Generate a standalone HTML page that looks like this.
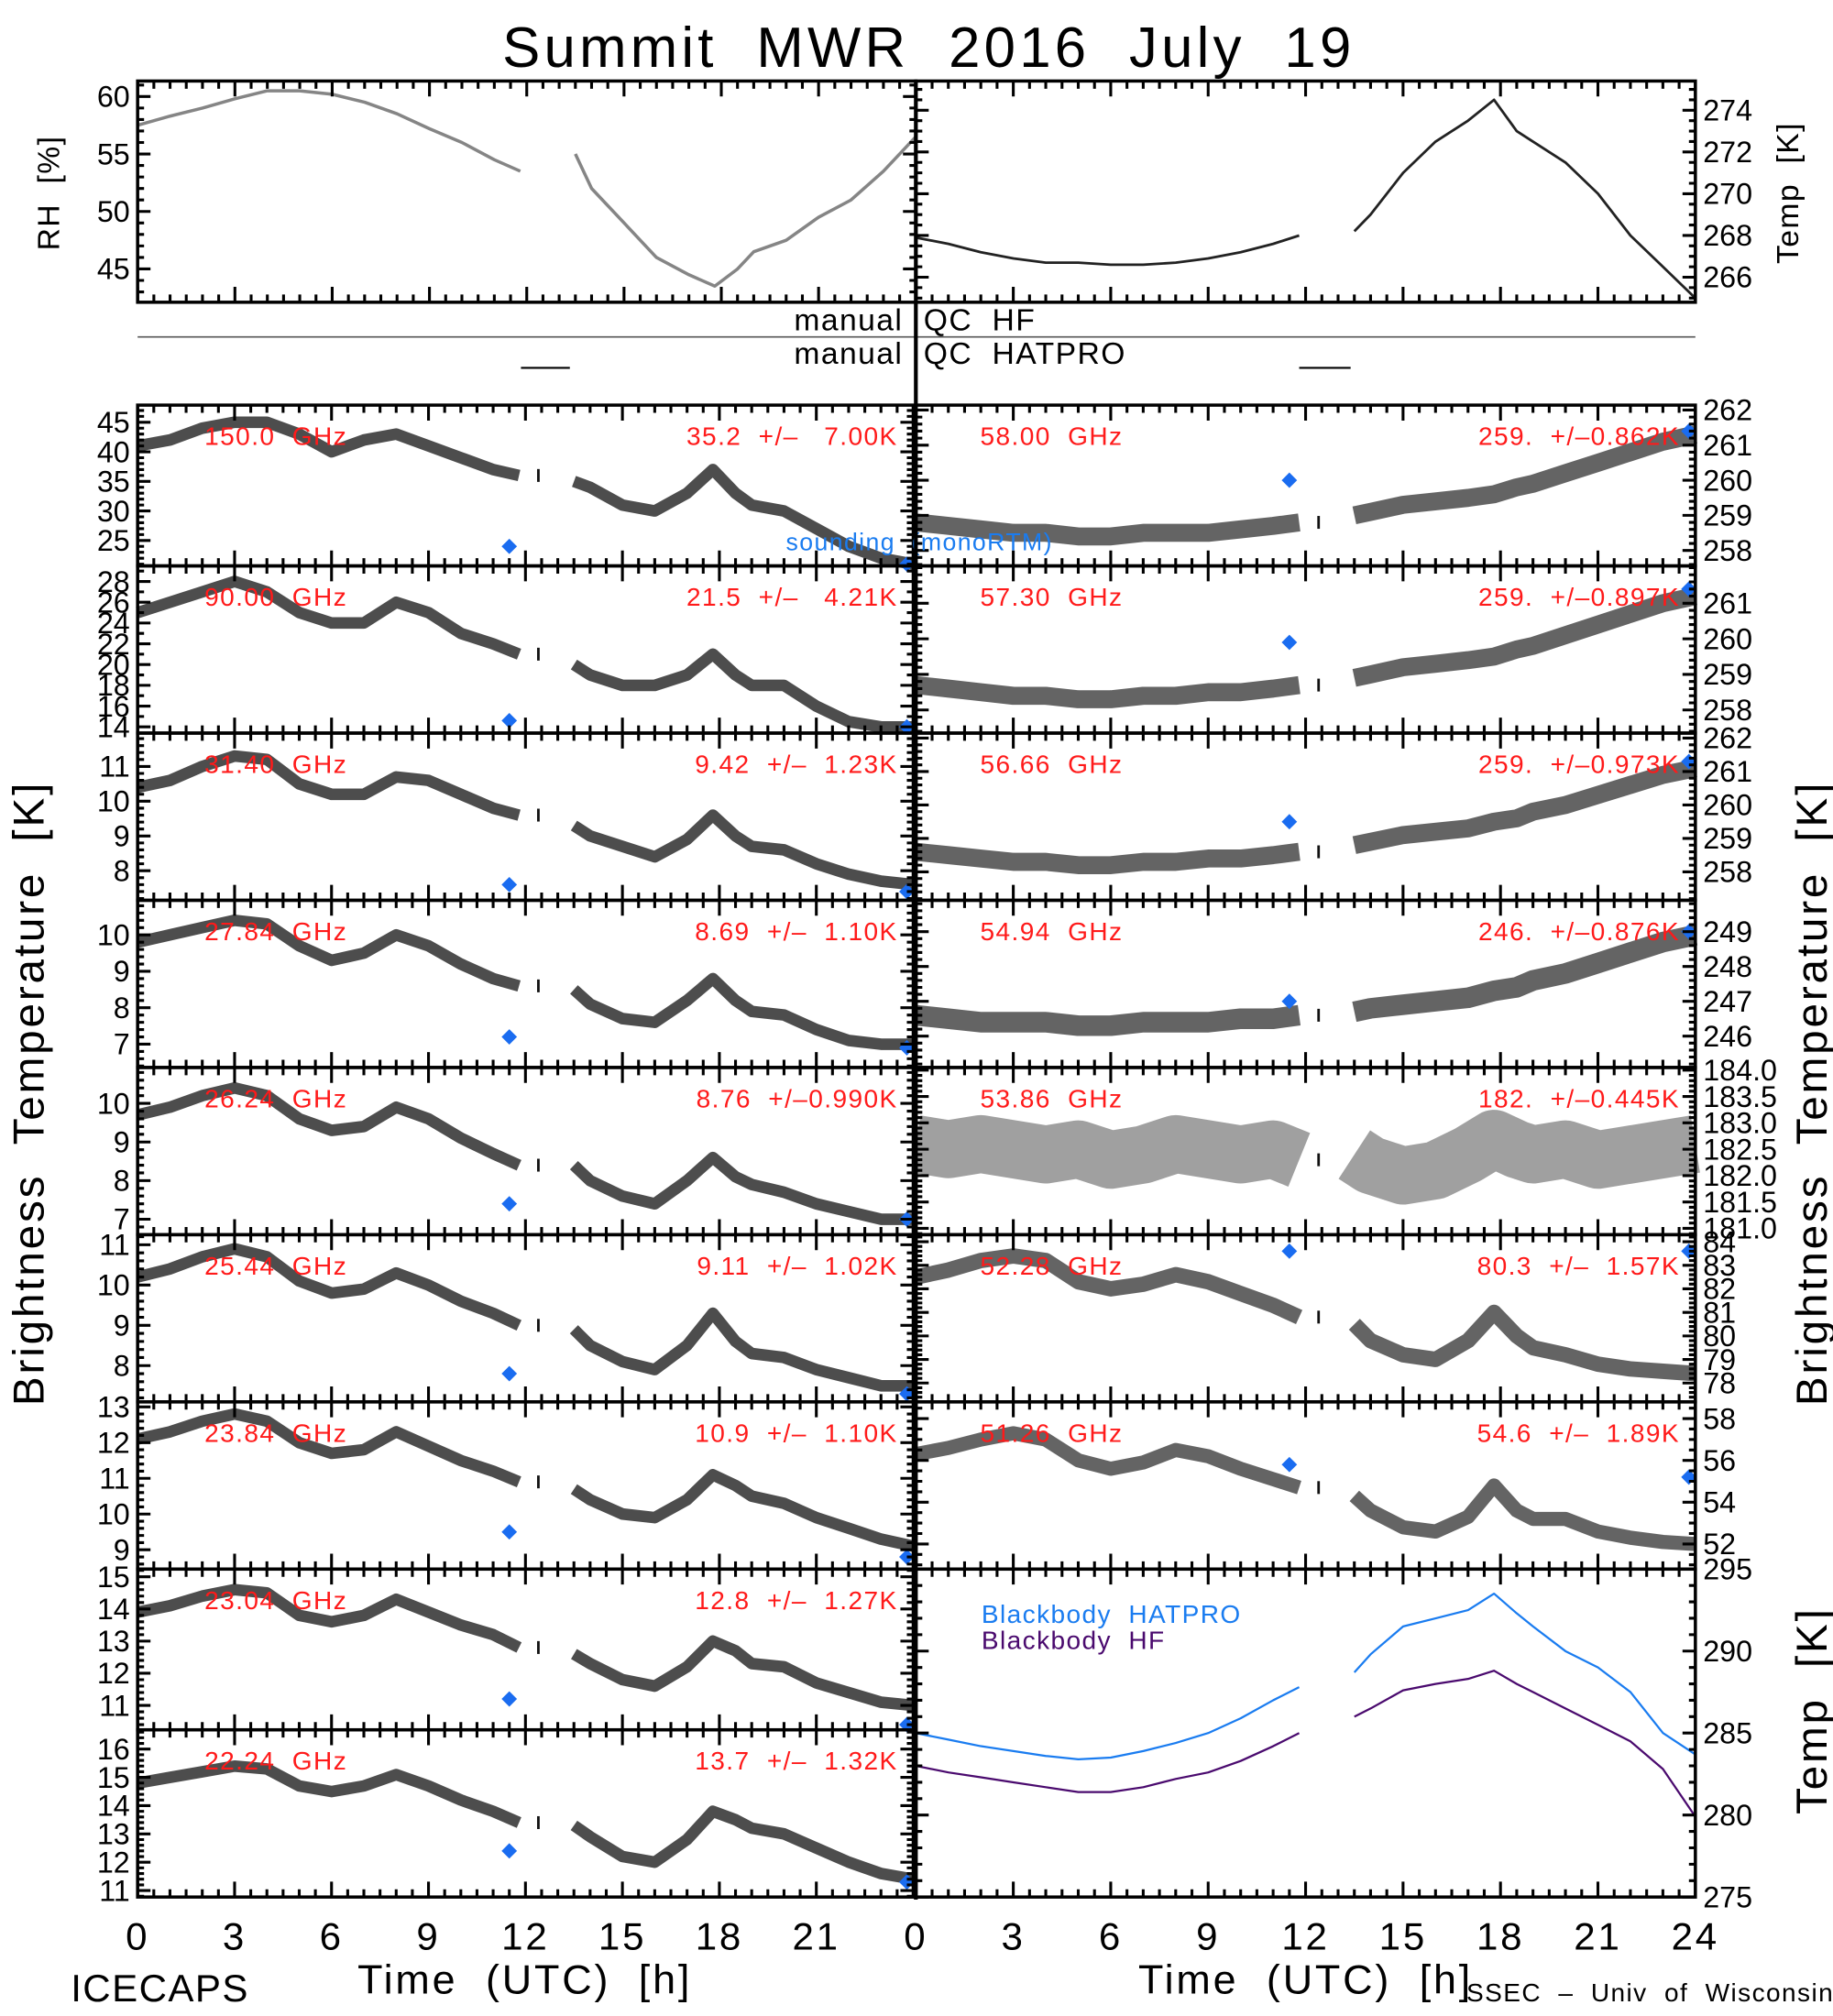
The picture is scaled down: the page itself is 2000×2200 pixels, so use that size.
<!DOCTYPE html>
<html><head><meta charset="utf-8"><style>
html,body{margin:0;padding:0;background:#fff;}
svg{display:block;font-family:"Liberation Sans",sans-serif;}
text{white-space:pre;}
</style></head><body>
<svg id="chart" width="2000" height="2200" viewBox="0 0 1425 1567.5" preserveAspectRatio="none" xmlns="http://www.w3.org/2000/svg">
<rect width="1425" height="1567.5" fill="#fff"/>
<text x="722" y="52" font-size="44" text-anchor="middle" letter-spacing="3">Summit  MWR  2016  July  19</text>
<line x1="107" y1="262" x2="1318" y2="262" stroke="#555" stroke-width="1.2"/>
<text x="702" y="257" font-size="24" text-anchor="end" letter-spacing="1">manual</text>
<text x="718" y="257" font-size="24" letter-spacing="1">QC  HF</text>
<text x="702" y="283" font-size="24" text-anchor="end" letter-spacing="1">manual</text>
<text x="718" y="283" font-size="24" letter-spacing="1">QC  HATPRO</text>
<line x1="405" y1="286" x2="443" y2="286" stroke="#000" stroke-width="1.5"/>
<line x1="1010" y1="286" x2="1050" y2="286" stroke="#000" stroke-width="1.5"/>
<g id="panels"></g>
<line x1="712" y1="63" x2="712" y2="1477" stroke="#000" stroke-width="3"/>
<text transform="translate(46,150) rotate(-90)" font-size="24" text-anchor="middle" letter-spacing="1">RH  [%]</text>
<text transform="translate(1398,150) rotate(-90)" font-size="24" text-anchor="middle" letter-spacing="1">Temp  [K]</text>
<text transform="translate(34,850) rotate(-90)" font-size="34" text-anchor="middle" letter-spacing="2">Brightness  Temperature  [K]</text>
<text transform="translate(1420,850) rotate(-90)" font-size="34" text-anchor="middle" letter-spacing="2">Brightness  Temperature  [K]</text>
<text transform="translate(1420,1330) rotate(-90)" font-size="34" text-anchor="middle" letter-spacing="2">Temp  [K]</text>
<text x="408" y="1550" font-size="32" text-anchor="middle" letter-spacing="2">Time  (UTC)  [h]</text>
<text x="1015" y="1550" font-size="32" text-anchor="middle" letter-spacing="2">Time  (UTC)  [h]</text>
<text x="55" y="1556" font-size="30" letter-spacing="1">ICECAPS</text>
<text x="1140" y="1556" font-size="20" letter-spacing="1">SSEC  –  Univ  of  Wisconsin</text>
</svg>
<script>
const T=[0,1,2,3,4,5,6,7,8,9,10,11,11.8,13.5,14,15,16,17,17.8,18.5,19,20,21,22,23,24];
const xTickLabels=[0,3,6,9,12,15,18,21];
const xTickLabelsRight=[0,3,6,9,12,15,18,21,24];
const rh=[57.5,58.3,59.0,59.8,60.5,60.5,60.2,59.5,58.5,57.2,56.0,54.5,53.5,55.0,52.0,49.0,46.0,44.5,43.5,45.0,46.5,47.5,49.5,51.0,53.5,56.5];
const tAir=[267.9,267.6,267.2,266.9,266.7,266.7,266.6,266.6,266.7,266.9,267.2,267.6,268.0,268.2,269.0,271.0,272.5,273.5,274.5,273.0,272.5,271.5,270.0,268.0,266.5,265.0];
const v150=[41,42,44,45,45,43,40,42,43,41,39,37,36,35,34,31,30,33,37,33,31,30,27,24,22,21];
const v90=[25,26,27,28,27,25,24,24,26,25,23,22,21,20,19,18,18,19,21,19,18,18,16,14.5,14,14];
const v3140=[10.4,10.6,11,11.3,11.2,10.5,10.2,10.2,10.7,10.6,10.2,9.8,9.6,9.3,9.0,8.7,8.4,8.9,9.6,9.0,8.7,8.6,8.2,7.9,7.7,7.6];
const v2784=[9.8,10,10.2,10.4,10.3,9.7,9.3,9.5,10,9.7,9.2,8.8,8.6,8.5,8.1,7.7,7.6,8.2,8.8,8.2,7.9,7.8,7.4,7.1,7.0,7.0];
const v2624=[9.7,9.9,10.2,10.4,10.2,9.6,9.3,9.4,9.9,9.6,9.1,8.7,8.4,8.4,8.0,7.6,7.4,8.0,8.6,8.1,7.9,7.7,7.4,7.2,7.0,7.0];
const v2544=[10.2,10.4,10.7,10.9,10.7,10.1,9.8,9.9,10.3,10,9.6,9.3,9.0,8.9,8.5,8.1,7.9,8.5,9.3,8.6,8.3,8.2,7.9,7.7,7.5,7.5];
const v2384=[12.1,12.3,12.6,12.8,12.6,12,11.7,11.8,12.3,11.9,11.5,11.2,10.9,10.7,10.4,10.0,9.9,10.4,11.1,10.8,10.5,10.3,9.9,9.6,9.3,9.1];
const v2304=[13.9,14.1,14.4,14.6,14.5,13.8,13.6,13.8,14.3,13.9,13.5,13.2,12.8,12.6,12.3,11.8,11.6,12.2,13.0,12.7,12.3,12.2,11.7,11.4,11.1,11.0];
const v2224=[14.8,15.0,15.2,15.4,15.3,14.7,14.5,14.7,15.1,14.7,14.2,13.8,13.4,13.3,12.9,12.2,12.0,12.8,13.8,13.5,13.2,13.0,12.5,12.0,11.6,11.4];
const v5800=[258.8,258.7,258.6,258.5,258.5,258.4,258.4,258.5,258.5,258.5,258.6,258.7,258.8,259.0,259.1,259.3,259.4,259.5,259.6,259.8,259.9,260.2,260.5,260.8,261.1,261.3];
const v5730=[258.7,258.6,258.5,258.4,258.4,258.3,258.3,258.4,258.4,258.5,258.5,258.6,258.7,258.9,259.0,259.2,259.3,259.4,259.5,259.7,259.8,260.1,260.4,260.7,261.0,261.2];
const v5666=[258.6,258.5,258.4,258.3,258.3,258.2,258.2,258.3,258.3,258.4,258.4,258.5,258.6,258.8,258.9,259.1,259.2,259.3,259.5,259.6,259.8,260.0,260.3,260.6,260.9,261.1];
const v5494=[246.6,246.5,246.4,246.4,246.4,246.3,246.3,246.4,246.4,246.4,246.5,246.5,246.6,246.7,246.8,246.9,247.0,247.1,247.3,247.4,247.6,247.8,248.1,248.4,248.7,248.9];
const v5386=[182.6,182.5,182.6,182.5,182.4,182.5,182.3,182.4,182.6,182.5,182.4,182.5,182.3,182.4,182.2,182.0,182.1,182.4,182.7,182.5,182.4,182.5,182.3,182.4,182.5,182.6];
const v5228=[82.5,82.8,83.2,83.4,83.2,82.3,82.0,82.2,82.6,82.3,81.8,81.3,80.8,80.5,79.8,79.2,79.0,79.8,81.0,80.0,79.5,79.2,78.8,78.6,78.5,78.4];
const v5126=[56.3,56.6,57.0,57.3,57.0,56.0,55.6,55.9,56.5,56.2,55.6,55.1,54.7,54.3,53.6,52.8,52.6,53.3,54.8,53.6,53.2,53.2,52.6,52.3,52.1,52.0];
const bbHatpro=[285,284.6,284.2,283.9,283.6,283.4,283.5,283.9,284.4,285,285.9,287,287.8,288.7,289.8,291.5,292,292.5,293.5,292.3,291.5,290,289,287.5,285,283.7];
const bbHF=[283,282.6,282.3,282,281.7,281.4,281.4,281.7,282.2,282.6,283.3,284.2,285,286,286.5,287.6,288,288.3,288.8,288,287.5,286.5,285.5,284.5,282.8,279.9];
const sondeT=[11.5,23.8];
const s150=[24,21],s90=[14.6,14],s3140=[7.6,7.4],s2784=[7.2,6.9],s2624=[7.4,7.0],s2544=[7.8,7.3],s2384=[9.5,8.8],s2304=[11.2,10.4],s2224=[12.4,11.3];
const s5800=[260.0,261.4],s5730=[259.9,261.4],s5666=[259.5,261.3],s5494=[247.0,249.0],s5228=[83.6,83.6],s5126=[55.8,55.2];

const NS='http://www.w3.org/2000/svg';
const root=document.getElementById('panels');
function mk(tag,attrs,parent){const e=document.createElementNS(NS,tag);for(const k in attrs)e.setAttribute(k,attrs[k]);(parent||root).appendChild(e);return e;}
const L={x0:107,x1:710},R={x0:712,x1:1318};
const rows=[315,440,570,700,830,960,1090,1220,1345,1475];

function panel(c){
  const g=mk('g',{});
  
  
  const xs=t=>c.x0+t/24*(c.x1-c.x0);
  const ys=v=>c.y1-(v-c.yMin)/(c.yMax-c.yMin)*(c.y1-c.y0);
  (c.series||[]).forEach(s=>{
    let d='';
    s.vals.forEach((v,i)=>{const cmd=(i===0||T[i]-T[i-1]>1)?'M':'L';d+=cmd+xs(T[i]).toFixed(1)+','+ys(v).toFixed(1)+' ';});
    const p=mk('path',{d:d,fill:'none',stroke:s.color,'stroke-width':s.w,'stroke-linejoin':'round',opacity:s.op||1},g);
    
    
    if(s.dot){const dt=mk('line',{x1:xs(12.4),x2:xs(12.4),y1:ys(s.dot)-5,y2:ys(s.dot)+5,stroke:s.color,'stroke-width':2},g);
      
      }
  });
  if(c.sonde){c.sonde.forEach((v,i)=>{const x=xs(sondeT[i]),y=ys(v);
    const dm=mk('polygon',{points:`${x},${y-6} ${x+6},${y} ${x},${y+6} ${x-6},${y}`,fill:'#1a6cf0'},g);
    
    });}
  const fr=mk('rect',{x:c.x0,y:c.y0,width:c.x1-c.x0,height:c.y1-c.y0,fill:'none',stroke:'#000','stroke-width':2.5},g);
  
  
  let tk='';
  for(let t=0;t<=24;t+=0.5){const x=xs(t),len=(t%3===0)?12:6;tk+=`M${x},${c.y0}v${len}M${x},${c.y1}v${-len}`;}
  for(let v=Math.ceil(c.yMin/c.minor)*c.minor;v<=c.yMax+1e-9;v+=c.minor){const y=ys(v);const maj=c.yTicks.some(t=>Math.abs(t-v)<1e-6);const len=maj?10:5;tk+=`M${c.x0},${y}h${len}M${c.x1},${y}h${-len}`;}
  const tp=mk('path',{d:tk,stroke:'#000','stroke-width':2.2,fill:'none'},g);
  
  
  c.yTicks.forEach(v=>{const tx=mk('text',{x:c.side==='left'?c.x0-6:c.x1+6,y:ys(v)+8,'font-size':c.fs||23,'text-anchor':c.side==='left'?'end':'start'},g);
    tx.textContent=c.tickText?c.tickText(v):String(v);
    
    });
  if(c.freq){const f=mk('text',{x:c.x0+(c.side==='left'?52:50),y:c.y0+31,'font-size':20,fill:'#ff1a1a','letter-spacing':1},g);f.textContent=c.freq;
    
    
    const st=mk('text',{x:c.x1-12,y:c.y0+31,'font-size':20,fill:'#ff1a1a','text-anchor':'end','letter-spacing':1},g);st.textContent=c.stats;
    
    }
}
panel({name:'rh-panel',x0:107,x1:712,y0:63,y1:235,yMin:42.1,yMax:61.35,minor:1,yTicks:[45,50,55,60],side:'left',
  series:[{name:'rh-line',vals:rh,color:'#333',w:2.5,op:0.6}]});
panel({name:'air-temp-panel',x0:712,x1:1318,y0:63,y1:235,yMin:264.8,yMax:275.4,minor:0.5,yTicks:[266,268,270,272,274],side:'right',
  series:[{name:'air-temp-line',vals:tAir,color:'#222',w:2}]});
const left=[
 ['150.0  GHz','35.2  +/–   7.00K',v150,s150,20.7,47.9,1,[25,30,35,40,45]],
 ['90.00  GHz','21.5  +/–   4.21K',v90,s90,13.4,29.5,1,[14,16,18,20,22,24,26,28]],
 ['31.40  GHz','9.42  +/–  1.23K',v3140,s3140,7.15,11.96,0.2,[8,9,10,11]],
 ['27.84  GHz','8.69  +/–  1.10K',v2784,s2784,6.36,10.95,0.2,[7,8,9,10]],
 ['26.24  GHz','8.76  +/–0.990K',v2624,s2624,6.6,10.93,0.2,[7,8,9,10]],
 ['25.44  GHz','9.11  +/–  1.02K',v2544,s2544,7.1,11.25,0.2,[8,9,10,11]],
 ['23.84  GHz','10.9  +/–  1.10K',v2384,s2384,8.46,13.14,0.2,[9,10,11,12,13]],
 ['23.04  GHz','12.8  +/–  1.27K',v2304,s2304,10.24,15.24,0.2,[11,12,13,14,15]],
 ['22.24  GHz','13.7  +/–  1.32K',v2224,s2224,10.77,16.68,0.2,[11,12,13,14,15,16]]];
left.forEach((p,i)=>panel({name:'tb-panel-'+i,x0:L.x0,x1:L.x1,y0:rows[i],y1:rows[i+1],yMin:p[4],yMax:p[5],minor:p[6],yTicks:p[7],side:'left',
  freq:p[0],stats:p[1],sonde:p[3],series:[{name:'tb-line',vals:p[2],color:'#111',w:9,op:0.75,dot:p[2][12]}]}));
const right=[
 ['58.00  GHz','259.  +/–0.862K',v5800,s5800,257.56,262.14,0.2,[258,259,260,261,262],14,null],
 ['57.30  GHz','259.  +/–0.897K',v5730,s5730,257.35,262.05,0.2,[258,259,260,261],14,null],
 ['56.66  GHz','259.  +/–0.973K',v5666,s5666,257.15,262.15,0.2,[258,259,260,261,262],14,null],
 ['54.94  GHz','246.  +/–0.876K',v5494,s5494,245.1,249.9,0.2,[246,247,248,249],16,null],
 ['53.86  GHz','182.  +/–0.445K',v5386,null,180.88,184.05,0.1,[181,181.5,182,182.5,183,183.5,184],45,v=>v.toFixed(1)],
 ['52.28  GHz','80.3  +/–  1.57K',v5228,s5228,77.2,84.3,0.2,[78,79,80,81,82,83,84],12,null],
 ['51.26  GHz','54.6  +/–  1.89K',v5126,s5126,50.8,58.8,0.5,[52,54,56,58],11,null]];
right.forEach((p,i)=>panel({name:'tb-panel-right-'+i,x0:R.x0,x1:R.x1,y0:rows[i],y1:rows[i+1],yMin:p[4],yMax:p[5],minor:p[6],yTicks:p[7],side:'right',tickText:p[9],
  freq:p[0],stats:p[1],sonde:p[3],series:[{name:'tb-line',vals:p[2],color:'#111',w:p[8],op:i===4?0.4:0.65,dot:p[2][12]}]}));
panel({name:'blackbody-panel',x0:R.x0,x1:R.x1,y0:1220,y1:1475,yMin:275,yMax:295,minor:1,yTicks:[275,280,285,290,295],side:'right',
  series:[{name:'blackbody-hatpro-line',vals:bbHatpro,color:'#1a7cf0',w:1.6},{name:'blackbody-hf-line',vals:bbHF,color:'#4a0a6e',w:1.6}]});
const lg1=mk('text',{x:763,y:1262,'font-size':20,fill:'#1a7cf0','letter-spacing':1});lg1.textContent='Blackbody  HATPRO';


const lg2=mk('text',{x:763,y:1282,'font-size':20,fill:'#4a0a6e','letter-spacing':1});lg2.textContent='Blackbody  HF';


const sl=mk('text',{x:611,y:428,'font-size':19,fill:'#1a7cf0','letter-spacing':1});sl.textContent='sounding  (monoRTM)';


xTickLabels.forEach(t=>{const e=mk('text',{x:L.x0+t/24*(L.x1-L.x0),y:1516,'font-size':30,'text-anchor':'middle','letter-spacing':2});e.textContent=t;
  
  });
xTickLabelsRight.forEach(t=>{const e=mk('text',{x:R.x0+t/24*(R.x1-R.x0),y:1516,'font-size':30,'text-anchor':'middle','letter-spacing':2});e.textContent=t;
  
  });
</script>
</body></html>
